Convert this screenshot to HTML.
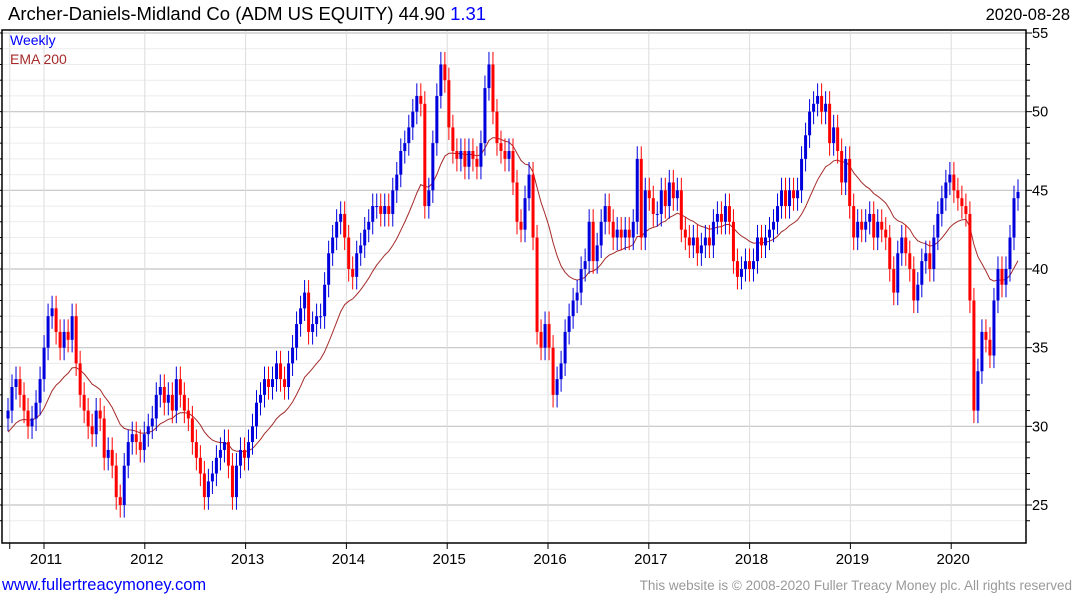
<!DOCTYPE html>
<html><head><meta charset="utf-8">
<style>
body{margin:0;background:#fff;width:1075px;height:600px;overflow:hidden;font-family:"Liberation Sans","DejaVu Sans",sans-serif;}
svg{display:block}
</style></head>
<body>
<svg id="chart" width="1075" height="600" xmlns="http://www.w3.org/2000/svg">
<text x="8" y="20" font-size="18.5" fill="#000" font-family="Liberation Sans, DejaVu Sans, sans-serif">Archer-Daniels-Midland Co (ADM US EQUITY) 44.90 <tspan fill="#0000ff">1.31</tspan></text>
<text x="1070" y="20" font-size="16.5" text-anchor="end" fill="#000" font-family="Liberation Sans, DejaVu Sans, sans-serif">2020-08-28</text>
<g id="grid"></g>
<g id="ema"></g>
<g id="bars"></g>
<g id="axes"></g>
<text x="10" y="45" font-size="14" fill="#0000ff" font-family="Liberation Sans, DejaVu Sans, sans-serif">Weekly</text>
<text x="10" y="64" font-size="14" fill="#a52a2a" font-family="Liberation Sans, DejaVu Sans, sans-serif">EMA 200</text>
<text x="2" y="590" font-size="16.5" fill="#0000ff" font-family="Liberation Sans, DejaVu Sans, sans-serif">www.fullertreacymoney.com</text>
<text x="1072" y="590" font-size="13.5" text-anchor="end" fill="#999" font-family="Liberation Sans, DejaVu Sans, sans-serif">This website is © 2008-2020 Fuller Treacy Money plc. All rights reserved</text>
</svg>
<script>
// Bi-weekly closes (Aug 2010 - Aug 2020)
const closes = [31,32.5,33,32,31,30,30.5,31.5,33,35,37,37.5,36,35,36,35.5,37,34,32,31,30,29.5,31,30.5,28,28.5,27.5,25.5,25,27.5,29,29.5,29,28.5,29.5,30,30.5,32,32.5,31.5,32,31,33,32,31,30.5,29,28,27,25.5,26.5,27,28,28.5,29,27.5,25.5,27.5,28.5,28,29,30,31.5,32,33,32.5,33,34,33,32.5,34,35,36.5,37.5,38.5,36,36.5,37,37,39,41,42,43,43.5,42,40,39.5,41,41.5,42.5,43,44,44,43.5,44,43.5,45,46,47.5,48,49,50,51,50.5,44,45,48,51,53,52,49,47.5,47,47.5,46.5,47.5,47,46.5,48,51.5,53,50,48,47.5,47,47.5,45.5,43,42.5,44.5,46,42,36,35,36.5,35,32,33,34,36,37,38,38.5,40,40.5,43,40.5,41.5,43,44,43,42,42.5,42,42.5,42,43,47,42,45,44.5,43.5,43.5,45,44,45.5,44.5,45,42.5,42,41.5,42,41,41.5,42,41.5,43,43.5,43,44,43,40.5,39.5,40,40.5,40,40.5,42,41.5,42,42.5,43,44,45,44,45,44.5,45,47,48.5,50,50.5,51,50,50.5,48,49,47.5,45.5,47,44,42,43,42.5,43,43.5,42,43,42.5,42,40,38.5,41,42,41,40,38,39,40.5,41,40,42,43.5,44.5,45.5,46,45,44.5,44,43.5,38,31,33.5,36,35.5,34.5,38,40,39,40,42,44.5,44.9];
const yearTicks = [2011,2012,2013,2014,2015,2016,2017,2018,2019,2020];
const priceTicks = [25,30,35,40,45,50,55];
const emaSeed = 29.5;

const NS="http://www.w3.org/2000/svg";
const L=2,R=1026,T=30,B=543;
const x0=8,x1=1018;
function xi(i){return x0+i*(x1-x0)/(closes.length-1);}
function yv(p){return 33+(55-p)*(472/30);}
function xYear(y){return 44+(y-2011)*100.8;}
function mk(tag,attrs,parent){const e=document.createElementNS(NS,tag);for(const k in attrs)e.setAttribute(k,attrs[k]);parent.appendChild(e);return e;}
const grid=document.getElementById('grid'),axes=document.getElementById('axes'),bars=document.getElementById('bars'),emaG=document.getElementById('ema');

for(let p=24;p<=55;p++){
  const y=yv(p); if(y<T||y>B)continue;
  const major=p%5===0;
  const g=mk('line',{x1:L,x2:R,y1:y,y2:y,stroke:major?'#c4c4c4':'#ececec','stroke-width':major?1.2:1},grid);
  
  
  const t=mk('line',{x1:R,x2:R+(major?6:4),y1:y,y2:y,stroke:'#000'},axes);
  
  
  const t2=mk('line',{x1:L-3,x2:L,y1:y,y2:y,stroke:'#000'},axes);
  
  
}
priceTicks.forEach(p=>{
  const tx=mk('text',{x:R+6,y:yv(p)+5,'font-size':14.5,fill:'#000','font-family':'Liberation Sans, DejaVu Sans, sans-serif'},axes);
  tx.textContent=p;
  
  
});
const vlines=[2010.66].concat(yearTicks);
vlines.forEach(yr=>{
  const x=xYear(yr);
  const v=mk('line',{x1:x,x2:x,y1:T,y2:B,stroke:'#dcdcdc'},grid);
  
  
  const tk=mk('line',{x1:x,x2:x,y1:B,y2:B+6,stroke:'#000'},axes);
  
  
});
yearTicks.forEach(yr=>{
  const tx=mk('text',{x:xYear(yr)+2,y:564,'font-size':15,'text-anchor':'middle',fill:'#000','font-family':'Liberation Sans, DejaVu Sans, sans-serif'},axes);
  tx.textContent=yr;
  
  
});
const frame=mk('path',{d:`M${L},${T}H${R}V${B}H${L}Z`,fill:'none',stroke:'#000','stroke-width':1.5},axes);



// EMA
let e=emaSeed,pts=[];const a=2/21;
closes.forEach((c,i)=>{e=e+a*(c-e);pts.push(xi(i).toFixed(1)+','+yv(e).toFixed(1));});
const pl=mk('polyline',{points:pts.join(' '),fill:'none',stroke:'#a52a2a','stroke-width':1},emaG);



// candles
closes.forEach((c,i)=>{
  const o=i===0?c-0.5:closes[i-1];
  const hi=Math.max(o,c)+0.8,lo=Math.min(o,c)-0.8;
  const col=c>=o?'#0000dd':'#ff0000';
  const x=xi(i);
  const w=mk('line',{x1:x,x2:x,y1:yv(hi),y2:yv(lo),stroke:col,'stroke-width':1},bars);
  
  
  const top=yv(Math.max(o,c)),bot=yv(Math.min(o,c));
  const r=mk('rect',{x:x-1.5,y:top,width:3,height:Math.max(1,bot-top),fill:col},bars);
  
  
});
</script>
</body></html>
